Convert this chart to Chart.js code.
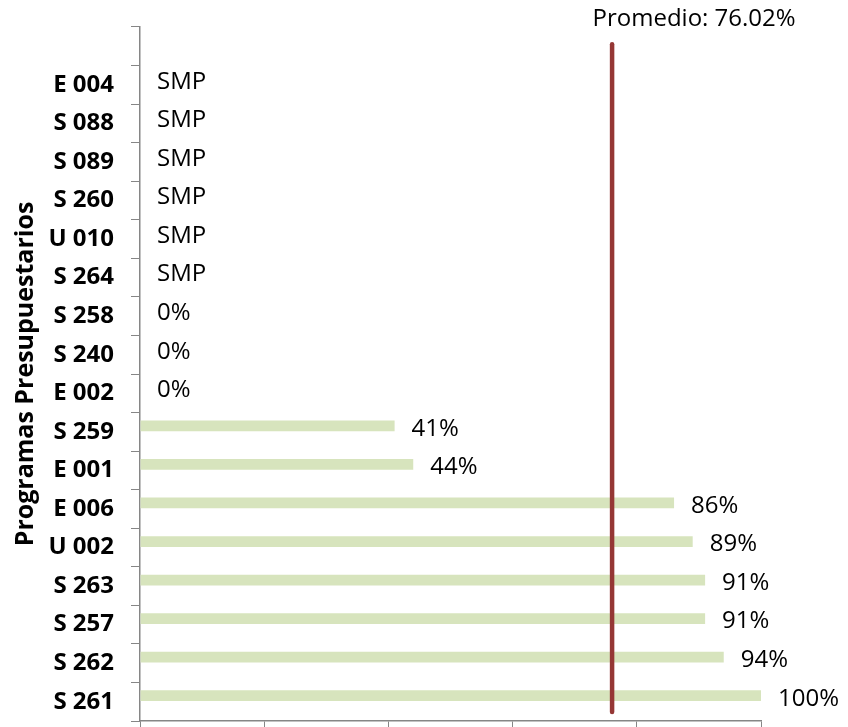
<!DOCTYPE html>
<html>
<head>
<meta charset="utf-8">
<script src="https://cdn.jsdelivr.net/npm/chart.js@4/dist/chart.umd.min.js"></script>
<style>
html,body{margin:0;padding:0;background:#fff;}
#wrap{width:848px;height:727px;position:relative;}
</style>
</head>
<body>
<div id="wrap"><canvas id="c" width="848" height="727"></canvas></div>
<script>
const categories = ["", "E 004", "S 088", "S 089", "S 260", "U 010", "S 264", "S 258", "S 240", "E 002", "S 259", "E 001", "E 006", "U 002", "S 263", "S 257", "S 262", "S 261"];
const values = [null, null, null, null, null, null, null, 0, 0, 0, 41, 44, 86, 89, 91, 91, 94, 100];
const labelsText = ["", "SMP", "SMP", "SMP", "SMP", "SMP", "SMP", "0%", "0%", "0%", "41%", "44%", "86%", "89%", "91%", "91%", "94%", "100%"];
const promedio = 76.02;
const promedioLabel = "Promedio: 76.02%";
const xTicks = [0, 20, 40, 60, 80, 100];

const FONT = "'Open Sans'";

const labelPlugin = {
  id: 'barLabels',
  afterDatasetsDraw(chart) {
    const ctx = chart.ctx;
    const x = chart.scales.x, y = chart.scales.y;
    ctx.save();
    ctx.font = "24px " + FONT;
    ctx.fillStyle = "#000";
    ctx.textAlign = "left";
    ctx.textBaseline = "middle";
    labelsText.forEach((t, i) => {
      if (!t) return;
      const v = values[i] == null ? 0 : values[i];
      ctx.fillText(t, x.getPixelForValue(v) + 17, y.getPixelForValue(i) - 3);
    });
    ctx.restore();
  }
};

const avgPlugin = {
  id: 'avgLine',
  afterDatasetsDraw(chart) {
    const ctx = chart.ctx;
    const x = chart.scales.x, y = chart.scales.y;
    const px = x.getPixelForValue(promedio);
    ctx.save();
    ctx.strokeStyle = "#953735";
    ctx.lineWidth = 4.5;
    ctx.lineCap = "round";
    ctx.beginPath();
    ctx.moveTo(px, y.getPixelForValue(0) - 2);
    ctx.lineTo(px, chart.chartArea.bottom - 9);
    ctx.stroke();
    ctx.font = "24px " + FONT;
    ctx.fillStyle = "#000";
    ctx.textAlign = "center";
    ctx.textBaseline = "middle";
    ctx.fillText(promedioLabel, px + 82, 19);
    ctx.restore();
  }
};

new Chart(document.getElementById('c'), {
  type: 'bar',
  data: {
    labels: categories,
    datasets: [
      { data: values, backgroundColor: "#d7e4bd", borderWidth: 0, barPercentage: 0.9, categoryPercentage: 0.62 },
      { data: categories.map(() => null), backgroundColor: "rgba(0,0,0,0)", barPercentage: 0.9, categoryPercentage: 0.62 }
    ]
  },
  options: {
    indexAxis: 'y',
    responsive: false,
    animation: false,
    layout: { padding: { top: 27, right: 87, bottom: 0, left: 0 } },
    plugins: { legend: { display: false }, tooltip: { enabled: false } },
    scales: {
      x: {
        type: 'linear',
        min: 0, max: 100,
        afterBuildTicks(s) { s.ticks = xTicks.map(v => ({ value: v })); },
        ticks: { display: false },
        grid: { drawOnChartArea: false, drawTicks: true, tickLength: 10, color: "#868686", lineWidth: 1 },
        border: { color: "#868686", width: 1.5 },
        afterFit(s) { s.height = 6; s.paddingLeft = 0; s.paddingRight = 0; }
      },
      y: {
        ticks: { color: "#000", font: { family: "Open Sans", size: 24, weight: 'bold' }, padding: 17, autoSkip: false },
        grid: { drawOnChartArea: false, drawTicks: true, tickLength: 9, color: "#868686", offset: true },
        border: { color: "#868686", width: 1.5 },
        title: { display: true, text: "Programas Presupuestarios", color: "#000", font: { family: "Open Sans", size: 25, weight: 'bold' }, padding: { top: 11, bottom: 0 } },
        afterFit(s) { s.width = 140; s.paddingTop = 0; s.paddingBottom = 0; }
      }
    }
  },
  plugins: [labelPlugin, avgPlugin]
});
</script>
</body>
</html>
